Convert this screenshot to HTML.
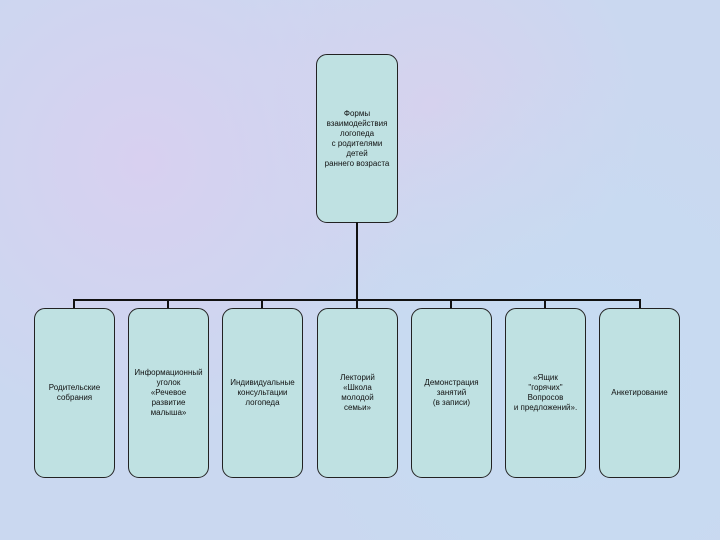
<!DOCTYPE html>
<html><head><meta charset="utf-8"><style>
body{margin:0;width:720px;height:540px;overflow:hidden;background:#cad8f0;
background-image:radial-gradient(circle at 20% 30%,#d8d0f0 0,transparent 40%),radial-gradient(circle at 80% 70%,#c6dcf2 0,transparent 45%),radial-gradient(circle at 60% 20%,#d6d2ee 0,transparent 35%);
font-family:"Liberation Sans","DejaVu Sans",sans-serif;position:relative}
.b{position:absolute;background:#bfe1e2;border:1px solid #222;border-radius:11px;box-sizing:border-box;display:flex;align-items:center;justify-content:center;text-align:center;font-size:8px;line-height:10px;color:#111}
.l{position:absolute;background:#111}
</style></head><body>
<div class="b" style="left:316px;top:54px;width:82px;height:169px">Формы<br>взаимодействия<br>логопеда<br>с родителями<br>детей<br>раннего возраста</div>
<div class="l" style="left:356px;top:222px;width:2px;height:79px"></div>
<div class="l" style="left:73px;top:299px;width:568px;height:2px"></div>
<div class="l" style="left:73px;top:299px;width:2px;height:10px"></div>
<div class="l" style="left:167px;top:299px;width:2px;height:10px"></div>
<div class="l" style="left:261px;top:299px;width:2px;height:10px"></div>
<div class="l" style="left:356px;top:299px;width:2px;height:10px"></div>
<div class="l" style="left:450px;top:299px;width:2px;height:10px"></div>
<div class="l" style="left:544px;top:299px;width:2px;height:10px"></div>
<div class="l" style="left:639px;top:299px;width:2px;height:10px"></div>
<div class="b" style="left:34px;top:308px;width:81px;height:170px">Родительские<br>собрания</div>
<div class="b" style="left:128px;top:308px;width:81px;height:170px">Информационный<br>уголок<br>«Речевое<br>развитие<br>малыша»</div>
<div class="b" style="left:222px;top:308px;width:81px;height:170px">Индивидуальные<br>консультации<br>логопеда</div>
<div class="b" style="left:317px;top:308px;width:81px;height:170px">Лекторий<br>«Школа<br>молодой<br>семьи»</div>
<div class="b" style="left:411px;top:308px;width:81px;height:170px">Демонстрация<br>занятий<br>(в записи)</div>
<div class="b" style="left:505px;top:308px;width:81px;height:170px">«Ящик<br>"горячих"<br>Вопросов<br>и предложений».</div>
<div class="b" style="left:599px;top:308px;width:81px;height:170px">Анкетирование</div>
</body></html>
